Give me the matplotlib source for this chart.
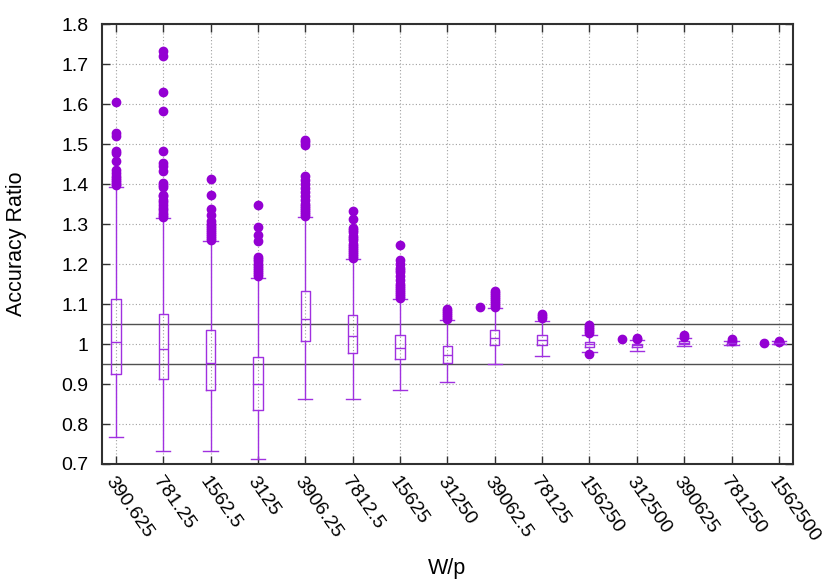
import matplotlib
matplotlib.use('Agg')
import matplotlib.pyplot as plt
from matplotlib.ticker import FormatStrFormatter
from matplotlib.transforms import ScaledTranslation

# W/p categories
categories = ['390.625', '781.25', '1562.5', '3125', '3906.25', '7812.5', '15625',
              '31250', '39062.5', '78125', '156250', '312500', '390625', '781250', '1562500']

# box statistics
q1 = [0.925, 0.9115, 0.886, 0.834, 1.008, 0.978, 0.9625, 0.9525, 0.9975, 0.9975,
      0.993, 0.9925, 1.001, 0.9975, 0.999]
median = [1.0065, 0.9875, 0.9525, 0.899, 1.063, 1.02, 0.99, 0.973, 1.015, 1.01,
          1.0, 0.9965, 1.004, 1.003, 1.0025]
q3 = [1.1125, 1.075, 1.035, 0.9675, 1.1325, 1.0725, 1.0225, 0.995, 1.035, 1.0225,
      1.006, 1.001, 1.0075, 1.0065, 1.006]
whislo = [0.7665, 0.7325, 0.7325, 0.7125, 0.863, 0.863, 0.886, 0.905, 0.95, 0.97,
          0.979, 0.983, 0.996, 0.9975, 0.999]
whishi = [1.3925, 1.315, 1.2575, 1.1665, 1.3175, 1.2125, 1.1125, 1.06, 1.09, 1.0575,
          1.024, 1.011, 1.015, 1.008, 1.0075]

fliers = [
    [1.606, 1.528, 1.52, 1.483, 1.478, 1.459, 1.435, 1.428, 1.42, 1.415, 1.41, 1.405, 1.40, 1.397],
    [1.734, 1.72, 1.63, 1.584, 1.483, 1.454, 1.445, 1.434, 1.404, 1.398, 1.392, 1.374, 1.37,
     1.36, 1.355, 1.348, 1.34, 1.335, 1.328, 1.322, 1.318],
    [1.414, 1.3725, 1.338, 1.323, 1.309, 1.30, 1.295, 1.29, 1.285, 1.28, 1.275, 1.27, 1.265, 1.26],
    [1.3475, 1.2925, 1.274, 1.2575, 1.219, 1.213, 1.207, 1.20, 1.195, 1.19, 1.185, 1.18, 1.175, 1.17],
    [1.51, 1.505, 1.498, 1.42, 1.41, 1.40, 1.39, 1.38, 1.37, 1.36, 1.35, 1.345, 1.34, 1.335,
     1.33, 1.325, 1.32],
    [1.334, 1.314, 1.29, 1.285, 1.28, 1.27, 1.265, 1.26, 1.25, 1.245, 1.24, 1.235, 1.23,
     1.225, 1.22, 1.215],
    [1.2475, 1.211, 1.2, 1.19, 1.185, 1.18, 1.17, 1.16, 1.15, 1.145, 1.14, 1.135, 1.13,
     1.125, 1.12, 1.115],
    [1.0875, 1.083, 1.078, 1.073, 1.068, 1.063],
    [1.133, 1.128, 1.123, 1.118, 1.113, 1.108, 1.103, 1.098, 1.093],
    [1.0757, 1.07, 1.065],
    [1.047, 1.042, 1.037, 1.032, 1.0275, 0.975],
    [1.016, 1.012],
    [1.0225, 1.018],
    [1.0125, 1.009],
    [1.009, 1.006],
]

# a few loose points sitting between categories
stray_pos = [8.69, 11.68, 14.68]
stray_val = [1.094, 1.0125, 1.004]

plt.rcParams['font.family'] = ['Liberation Sans', 'DejaVu Sans']
plt.rcParams['font.size'] = 14

violet = '#9400d3'
boxcol = '#a030e0'

fig = plt.figure(figsize=(8.3, 5.81), dpi=100)
ax = fig.add_axes([0.1225, 0.2014, 0.833, 0.7566])

stats = []
for i in range(len(categories)):
    stats.append({'q1': q1[i], 'med': median[i], 'q3': q3[i],
                  'whislo': whislo[i], 'whishi': whishi[i], 'fliers': fliers[i]})

positions = list(range(1, len(categories) + 1))
ax.bxp(stats, positions=positions, widths=0.2, capwidths=0.3, showfliers=True,
       boxprops=dict(color=boxcol, linewidth=1.0),
       medianprops=dict(color=boxcol, linewidth=1.0),
       whiskerprops=dict(color=boxcol, linewidth=1.0),
       capprops=dict(color=boxcol, linewidth=1.0),
       flierprops=dict(marker='o', markerfacecolor=violet, markeredgecolor=violet,
                       markersize=6, linestyle='none'),
       zorder=3)
ax.plot(stray_pos, stray_val, 'o', color=violet, markersize=6, zorder=3)

ax.axhline(1.05, color='#505050', linewidth=1.0, zorder=2)
ax.axhline(0.95, color='#505050', linewidth=1.0, zorder=2)

ax.set_xlim(0.7, 15.3)
ax.set_ylim(0.7, 1.8)
ax.set_yticks([0.7 + 0.1 * k for k in range(12)])
ax.yaxis.set_major_formatter(FormatStrFormatter('%g'))
ax.set_xticks(positions)
ax.set_xticklabels(categories, rotation=-55, ha='left', va='top', rotation_mode='anchor')
shift = ScaledTranslation(4 / 72, 0, fig.dpi_scale_trans)
for lab in ax.get_xticklabels():
    lab.set_transform(lab.get_transform() + shift)

ax.grid(True, color='#a0a0a0', linestyle=(0, (1, 2)), linewidth=0.8, zorder=0)
ax.tick_params(direction='in', length=6, width=1.0, top=True, right=True,
               colors='#303030', labelcolor='black')
ax.tick_params(axis='y', pad=9.5)
ax.tick_params(axis='x', pad=7)
for s in ax.spines.values():
    s.set_linewidth(1.5)
    s.set_color('#303030')

ax.set_xlabel('W/p', fontsize=15.5)
ax.set_ylabel('Accuracy Ratio', fontsize=15.5)
ax.xaxis.set_label_coords(0.5, -0.2136)
ax.yaxis.set_label_coords(-0.108, 0.5)

plt.savefig('out.png', dpi=100)
